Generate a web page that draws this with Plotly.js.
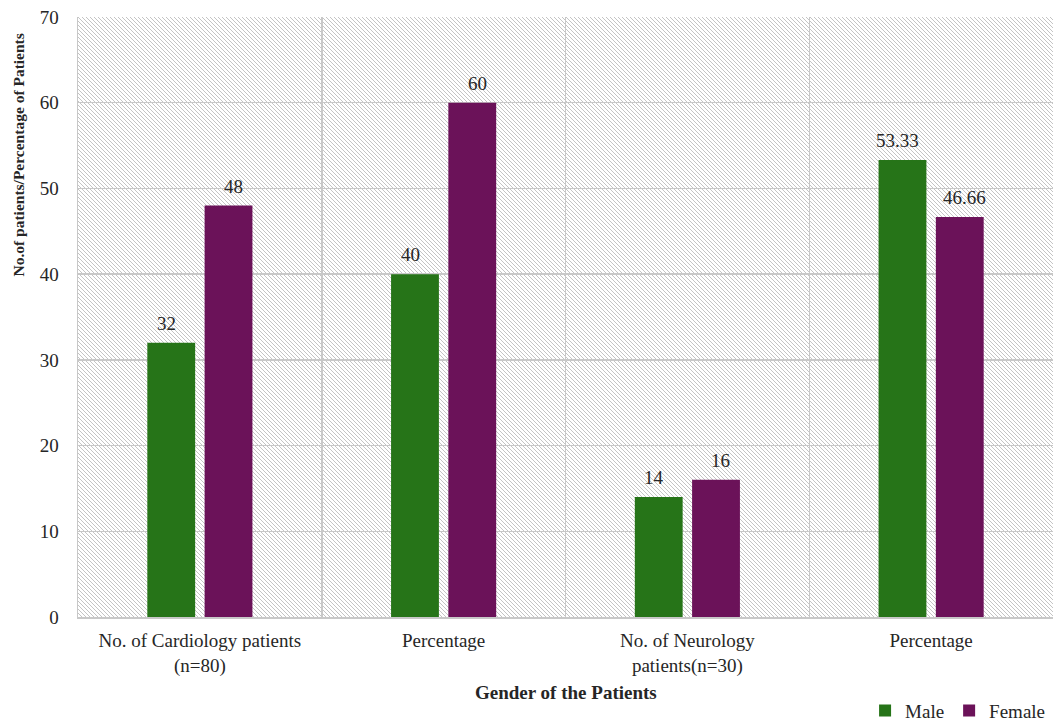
<!DOCTYPE html>
<html>
<head>
<meta charset="utf-8">
<script src="https://cdn.plot.ly/plotly-3.0.1.min.js"></script>
<style>
  html, body { margin: 0; padding: 0; background: #fff; }
  #wrap { position: relative; width: 1053px; height: 723px; }
  #hatch { position: absolute; left: 78px; top: 17px; width: 975px; height: 600px;
    background-image: url("data:image/svg+xml,%3Csvg xmlns='http://www.w3.org/2000/svg' width='4' height='4'%3E%3Cpath d='M-1,-1 L5,5 M-1,3 L1,5 M3,-1 L5,1' stroke='%23c4c4c4' stroke-width='1'/%3E%3C/svg%3E");
    background-size: 4px 4px; }
  #chart { position: absolute; left: 0; top: 0; width: 1053px; height: 723px; }
</style>
</head>
<body>
<div id="wrap"><div id="hatch"></div><div id="chart"></div></div>
<script>
const categories = ["No. of Cardiology patients<br>(n=80)", "Percentage", "No. of Neurology<br>patients(n=30)", "Percentage"];
const positions = [0, 1, 2, 3];
const maleValues = [32, 40, 14, 53.33];
const femaleValues = [48, 60, 16, 46.66];
const maleLabels = ["32", "40", "14", "53.33"];
const femaleLabels = ["48", "60", "16", "46.66"];
const yTicks = [0, 10, 20, 30, 40, 50, 60, 70];

const serif = "Liberation Serif";
const green = "#267418";
const purple = "#6B1259";
const txt = "#262626";

const traces = [
  { type: "bar", name: "Male", x: positions, y: maleValues, marker: { color: green }, hoverinfo: "y" },
  { type: "bar", name: "Female", x: positions, y: femaleValues, marker: { color: purple }, hoverinfo: "y" }
];

const annotations = [];
positions.forEach((p, i) => {
  annotations.push({ x: p, y: maleValues[i], xref: "x", yref: "y", text: maleLabels[i], showarrow: false,
    xshift: -33.5, yshift: 7, yanchor: "bottom", font: { family: serif, size: 19, color: txt } });
  annotations.push({ x: p, y: femaleValues[i], xref: "x", yref: "y", text: femaleLabels[i], showarrow: false,
    xshift: 33.5, yshift: 7, yanchor: "bottom", font: { family: serif, size: 19, color: txt } });
});
annotations.push({ text: "<b>No.of patients/Percentage of Patients</b>", textangle: -90, xref: "paper", yref: "paper",
  x: -0.062, y: 0.77, xanchor: "center", yanchor: "middle", showarrow: false,
  font: { family: serif, size: 15.5, color: txt } });
annotations.push({ text: "<b>Gender of the Patients</b>", xref: "paper", yref: "paper",
  x: 0.5, y: -0.125, xanchor: "center", yanchor: "middle", showarrow: false,
  font: { family: serif, size: 19, color: txt } });

const layout = {
  width: 1053, height: 723,
  font: { family: serif },
  margin: { l: 78, r: 0, t: 17, b: 106, autoexpand: false },
  paper_bgcolor: "rgba(0,0,0,0)",
  plot_bgcolor: "rgba(0,0,0,0)",
  barmode: "group",
  bargap: 0.53,
  bargroupgap: 0.165,
  showlegend: true,
  legend: { orientation: "h", x: 0.997, xanchor: "right", y: -0.156, yanchor: "middle",
    font: { family: serif, size: 19, color: txt }, itemwidth: 30, traceorder: "normal" },
  xaxis: {
    range: [-0.5, 3.5], tickmode: "array", tickvals: positions, ticktext: categories, automargin: false,
    showgrid: false, zeroline: false, showline: true, linecolor: "#c8c8c8", linewidth: 1.5, mirror: false,
    ticks: "", ticklabelstandoff: 6, tickfont: { family: serif, size: 19, color: txt },
    minor: { tickmode: "linear", tick0: 0.5, dtick: 1, showgrid: true, gridcolor: "#c8c8c8", gridwidth: 1.5, ticks: "" }
  },
  yaxis: {
    range: [0, 70], tickmode: "array", tickvals: yTicks, ticktext: yTicks.map(String), automargin: false,
    showgrid: true, gridcolor: "#c8c8c8", gridwidth: 1.5, zeroline: false,
    showline: true, linecolor: "#c8c8c8", linewidth: 1.5,
    ticks: "", ticklabelstandoff: 14, tickfont: { family: serif, size: 19, color: txt }
  },
  annotations: annotations
};

Plotly.newPlot("chart", traces, layout, { displayModeBar: false, staticPlot: true });
</script>
</body>
</html>
